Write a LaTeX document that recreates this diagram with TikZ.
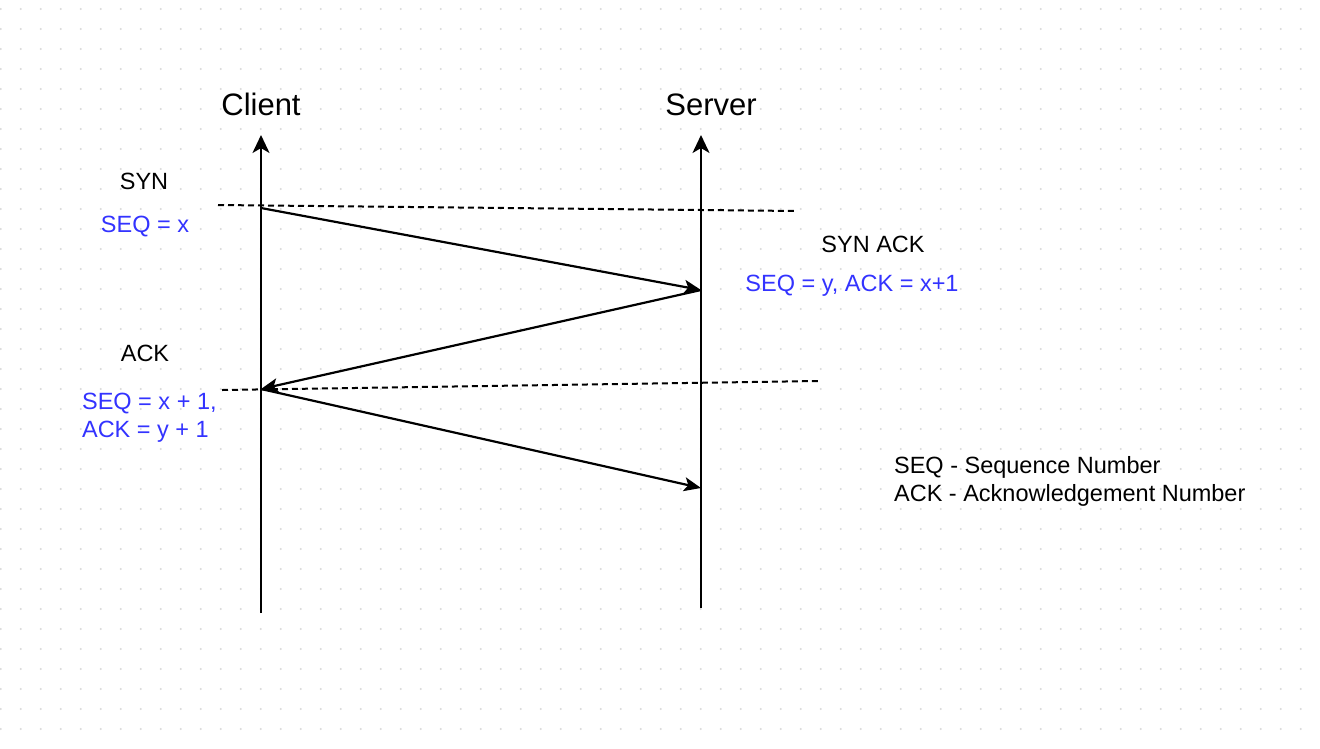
\documentclass[tikz,border=0pt]{standalone}
\usepackage{fontspec}
\setmainfont{Liberation Sans}
\usepackage{tikz}
\usetikzlibrary{arrows.meta}

\definecolor{seqblue}{RGB}{51,51,255}
\definecolor{griddot}{RGB}{218,218,218}

\begin{document}
\begin{tikzpicture}[
            x = 1pt, y = -1pt, % one unit per pixel of the drawing
            > = {Stealth[length=17pt, width=14pt, inset=4pt]}, % arrow head style
            line width = 2.2pt
        ]

        \tikzstyle{head}=[inner sep=0pt, anchor=base, font=\fontsize{31}{36}\selectfont]
        \tikzstyle{msg}=[inner sep=0pt, anchor=base, font=\fontsize{23.5}{28}\selectfont]
        \tikzstyle{seq}=[msg, text=seqblue]
        \tikzstyle{timeline}=[-{Stealth[length=18pt, width=17pt, inset=5pt]}]
        \tikzstyle{level}=[dash pattern=on 6pt off 4pt, line width=2pt]

        % canvas with dotted grid
        \useasboundingbox[fill=white] (0,0) rectangle (1320,748);
        \foreach \i in {0,...,65}
            \foreach \j in {0,...,36}
                \fill[griddot] (\i*20+0.7,\j*20+9) circle (1.1pt);

        % time lines
        \coordinate (C0) at (261,613);
        \coordinate (C1) at (261,135);
        \coordinate (S0) at (701,608);
        \coordinate (S1) at (701,135);
        \draw[timeline] (C0) -- (C1);
        \draw[timeline] (S0) -- (S1);

        \node[head] (client) at (261,115) {Client};
        \node[head] (server) at (711,115) {Server};

        % handshake points
        \coordinate (Csyn) at (261,208);
        \coordinate (Ssynack) at (701,290);
        \coordinate (Cack) at (261,389);
        \coordinate (Sack) at (701,488);

        \coordinate (L1a) at (218,205);
        \coordinate (L1b) at (797,211);
        \coordinate (L2a) at (222,390);
        \coordinate (L2b) at (818,381);
        \draw[level] (L1a) -- (L1b);
        \draw[level] (L2a) -- (L2b);

        \draw[->] (Csyn) -- (Ssynack);
        \draw[->] (Ssynack) -- (Cack);
        \draw[->] (Cack) -- (Sack);

        \node[msg] (syn) at (144,189) {SYN};
        \node[seq] (seqx) at (145,232) {SEQ = x};
        \node[msg] (synack) at (873,252) {SYN ACK};
        \node[seq] (seqy) at (852,291) {SEQ = y, ACK = x+1};
        \node[msg] (ack) at (145,361) {ACK};
        \node[seq, anchor=north west, align=left] (seqack) at (81,392) {SEQ = x + 1,\\ACK = y + 1};

        \node[msg, anchor=north west, align=left] (legend) at (893,455) {SEQ - Sequence Number\\ACK - Acknowledgement Number};

  \end{tikzpicture}
\end{document}
